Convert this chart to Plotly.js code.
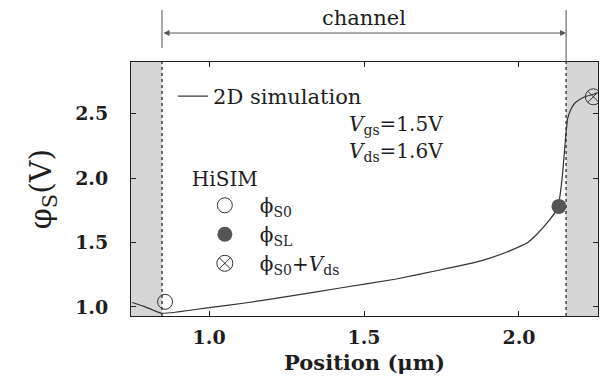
<!DOCTYPE html>
<html>
<head>
<meta charset="utf-8">
<script src="https://cdn.plot.ly/plotly-3.0.1.min.js"></script>
<style>
  html, body { margin: 0; padding: 0; background: #fff; }
  #chart { width: 605px; height: 379px; }
</style>
</head>
<body>
<div id="chart"></div>
<script>
// Surface potential along the channel: 2D device simulation vs. HiSIM values
const positionUm = [0.752, 0.79, 0.82, 0.848, 0.9, 1.0, 1.116, 1.25, 1.423, 1.6, 1.745, 1.88,
                    1.961, 2.026, 2.06, 2.09, 2.115, 2.13, 2.141, 2.150, 2.157, 2.168, 2.18,
                    2.20, 2.215, 2.24, 2.252];
const phiSim     = [1.035, 1.005, 0.975, 0.950, 0.962, 0.995, 1.031, 1.080, 1.147, 1.215, 1.287, 1.36,
                    1.426, 1.496, 1.570, 1.650, 1.730, 1.830, 2.04, 2.30, 2.46, 2.535, 2.58,
                    2.615, 2.632, 2.650, 2.660];

// HiSIM potentials at the channel ends
const phiS0Pos = [0.858], phiS0Val = [1.04];
const phiSLPos = [2.129], phiSLVal = [1.78];
const phiS0VdsPos = [2.24], phiS0VdsVal = [2.63];

// Channel extent (µm) and plotted ranges
const channelStart = 0.848, channelEnd = 2.152;
const xRange = [0.748, 2.255];
const yRange = [0.93, 2.90];
const xTicks = [1.0, 1.5, 2.0];
const yTicks = [1.0, 1.5, 2.0, 2.5];

const SERIF = 'DejaVu Serif, Liberation Serif, serif';
const INK = '#1e1e1e';

const traces = [
  {
    x: positionUm, y: phiSim, mode: 'lines', name: '2D simulation',
    line: {color: '#333', width: 1.2, shape: 'spline', smoothing: 0.35},
    legend: 'legend', hoverinfo: 'skip'
  },
  {
    x: phiS0Pos, y: phiS0Val, mode: 'markers', name: 'ϕ<sub>S0</sub>',
    marker: {symbol: 'circle-open', size: 15, color: '#333', line: {width: 1}},
    legend: 'legend2'
  },
  {
    x: phiSLPos, y: phiSLVal, mode: 'markers', name: 'ϕ<sub>SL</sub>',
    marker: {symbol: 'circle', size: 15, color: '#555', line: {width: 0}},
    legend: 'legend2'
  },
  {
    x: phiS0VdsPos, y: phiS0VdsVal, mode: 'markers', name: 'ϕ<sub>S0</sub>+<i>V</i><sub>ds</sub>',
    marker: {symbol: 'circle-x-open', size: 16, color: '#333', line: {width: 1}},
    legend: 'legend2'
  }
];

const axisCommon = {
  showgrid: false, zeroline: false,
  showline: true, linecolor: INK, linewidth: 1, mirror: 'ticks',
  ticks: 'inside', ticklen: 5, tickcolor: INK, tickwidth: 1,
  tickformat: '.1f',
  tickfont: {family: SERIF, size: 19, color: INK, weight: 'bold'}
};

const layout = {
  width: 605, height: 379,
  margin: {l: 131, r: 7, t: 62, b: 63},
  paper_bgcolor: '#fff', plot_bgcolor: '#fff',
  xaxis: Object.assign({}, axisCommon, {
    range: xRange, tickvals: xTicks, ticklabelstandoff: 4,
    title: {text: 'Position (μm)', standoff: 8,
            font: {family: SERIF, size: 21, color: INK, weight: 'bold'}}
  }),
  yaxis: Object.assign({}, axisCommon, {
    range: yRange, tickvals: yTicks, ticklabelstandoff: 18,
    title: {text: 'φ<sub>S</sub>(V)', standoff: 14,
            font: {family: SERIF, size: 30, color: INK}}
  }),
  showlegend: true,
  legend: {
    x: 0.09, y: 0.945, xanchor: 'left', yanchor: 'top',
    bgcolor: 'rgba(0,0,0,0)', itemwidth: 30,
    font: {family: SERIF, size: 21, color: INK}
  },
  legend2: {
    x: 0.126, y: 0.615, xanchor: 'left', yanchor: 'top',
    bgcolor: 'rgba(0,0,0,0)', itemwidth: 60, tracegroupgap: 0,
    title: {text: 'HiSIM', side: 'top', font: {family: SERIF, size: 20, color: INK}},
    font: {family: SERIF, size: 20, color: INK}
  },
  shapes: [
    // shaded source / drain regions outside the channel
    {type: 'rect', layer: 'below', xref: 'x', yref: 'paper',
     x0: xRange[0], x1: channelStart, y0: 0, y1: 1,
     fillcolor: '#d6d6d6', line: {width: 0}},
    {type: 'rect', layer: 'below', xref: 'x', yref: 'paper',
     x0: channelEnd, x1: xRange[1], y0: 0, y1: 1,
     fillcolor: '#d6d6d6', line: {width: 0}},
    {type: 'line', layer: 'below', xref: 'x', yref: 'paper',
     x0: channelStart, x1: channelStart, y0: 0, y1: 1,
     line: {color: '#444', width: 1.5, dash: 'dot'}},
    {type: 'line', layer: 'below', xref: 'x', yref: 'paper',
     x0: channelEnd, x1: channelEnd, y0: 0, y1: 1,
     line: {color: '#444', width: 1.5, dash: 'dot'}},
    // channel bracket above the plot
    {type: 'line', xref: 'x', yref: 'paper',
     x0: channelStart, x1: channelStart, y0: 1.055, y1: 1.205,
     line: {color: '#555', width: 1}},
    {type: 'line', xref: 'x', yref: 'paper',
     x0: channelEnd, x1: channelEnd, y0: 1.0, y1: 1.205,
     line: {color: '#555', width: 1}}
  ],
  annotations: [
    {xref: 'x', yref: 'paper', x: channelEnd, y: 1.114,
     axref: 'x', ayref: 'pixel', ax: channelStart, ay: 0,
     text: '', showarrow: true, arrowside: 'end+start',
     arrowhead: 2, arrowsize: 1.2, arrowwidth: 1, arrowcolor: '#555'},
    {xref: 'x', yref: 'paper', x: (channelStart + channelEnd) / 2, y: 1.173,
     text: 'channel', showarrow: false, xanchor: 'center', yanchor: 'middle',
     font: {family: SERIF, size: 21, color: INK}},
    {xref: 'paper', yref: 'paper', x: 0.4625, y: 0.752,
     text: '<i>V</i><sub>gs</sub>=1.5V', showarrow: false, xanchor: 'left', yanchor: 'middle',
     font: {family: SERIF, size: 20, color: INK}},
    {xref: 'paper', yref: 'paper', x: 0.4625, y: 0.646,
     text: '<i>V</i><sub>ds</sub>=1.6V', showarrow: false, xanchor: 'left', yanchor: 'middle',
     font: {family: SERIF, size: 20, color: INK}}
  ]
};

Plotly.newPlot('chart', traces, layout, {displayModeBar: false, staticPlot: true});
</script>
</body>
</html>
